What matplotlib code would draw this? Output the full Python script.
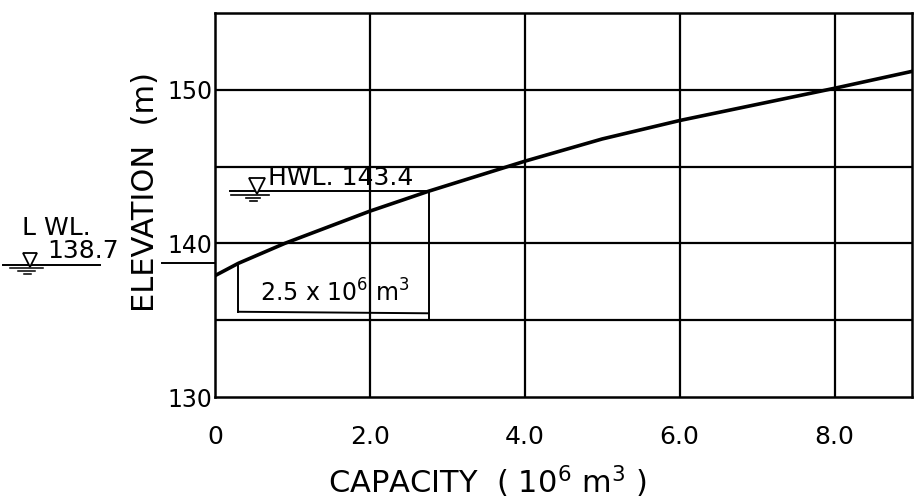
import matplotlib
matplotlib.use("Agg")
import matplotlib.pyplot as plt

# ---- data ----
capacity = [0.0, 0.30, 0.90, 2.0, 2.76, 4.0, 5.0, 6.0, 7.0, 8.0, 9.0]
elevation = [137.9, 138.7, 140.0, 142.1, 143.4, 145.35, 146.8, 148.0, 149.05, 150.1, 151.2]

x_ticks = [0, 2, 4, 6, 8]
x_tick_labels = ["0", "2.0", "4.0", "6.0", "8.0"]
y_ticks = [130, 140, 150]
y_tick_labels = ["130", "140", "150"]
y_grid = [135, 140, 145, 150]

lwl_level = 138.7
hwl_level = 143.4
lwl_capacity = 0.30
hwl_capacity = 2.76
bracket_level = 135.55

plt.rcParams["font.family"] = ["DejaVu Sans"]
plt.rcParams["mathtext.fontset"] = "dejavusans"

fig = plt.figure(figsize=(9.2, 5.04), dpi=100)
ax = fig.add_axes([215/920, 1-397/504, (912-215)/920, (397-13)/504])

ax.set_xlim(0, 9)
ax.set_ylim(130, 155)

# grid
for gx in x_ticks[1:]:
    ax.axvline(gx, color="black", lw=1.6, zorder=1)
for gy in y_grid:
    ax.axhline(gy, color="black", lw=1.6, zorder=1)

for s in ax.spines.values():
    s.set_linewidth(1.8)
    s.set_color("black")

# curve
ax.plot(capacity, elevation, color="black", lw=2.6, zorder=3)

ax.set_xticks(x_ticks)
ax.set_xticklabels(x_tick_labels, fontsize=18)
ax.set_yticks(y_ticks)
ax.set_yticklabels(y_tick_labels, fontsize=17)
ax.tick_params(axis="x", length=0, pad=20)
ax.tick_params(axis="y", length=0, pad=2)

# HWL annotation
ax.plot([0.19, hwl_capacity], [hwl_level, hwl_level], color="black", lw=1.4, zorder=2)
ax.plot([0.54], [hwl_level + 0.33], marker="v", ms=11, mfc="white", mec="black", mew=1.3, zorder=4)
ax.plot([0.21, 0.70], [hwl_level - 0.26, hwl_level - 0.26], color="black", lw=1.2)
ax.plot([0.40, 0.58], [hwl_level - 0.45, hwl_level - 0.45], color="black", lw=1.2)
ax.plot([0.45, 0.54], [hwl_level - 0.63, hwl_level - 0.63], color="black", lw=1.2)
ax.text(0.68, hwl_level + 0.05, "HWL. 143.4", fontsize=18,
        ha="left", va="bottom", zorder=5)

# bracket for 2.5 x 10^6 m^3
ax.plot([lwl_capacity, lwl_capacity], [lwl_level, bracket_level], color="black", lw=1.4)
ax.plot([lwl_capacity, hwl_capacity], [bracket_level, bracket_level - 0.1], color="black", lw=1.4)
ax.plot([hwl_capacity, hwl_capacity], [hwl_level, 135.0], color="black", lw=1.4)
ax.text(1.55, 136.8, r"2.5 x 10$^6$ m$^3$", fontsize=17, ha="center", va="center")

# LWL annotation (outside axes, left)
ax.plot([-0.68, 0.0], [lwl_level, lwl_level], color="black", lw=1.4, clip_on=False)
ax.plot([-2.74, -1.48], [lwl_level - 0.1, lwl_level - 0.1], color="black", lw=1.4, clip_on=False)
ax.plot([-2.39], [lwl_level + 0.25], marker="v", ms=10, mfc="white", mec="black", mew=1.3, clip_on=False)
ax.plot([-2.65, -2.22], [lwl_level - 0.33, lwl_level - 0.33], color="black", lw=1.1, clip_on=False)
ax.plot([-2.54, -2.32], [lwl_level - 0.52, lwl_level - 0.52], color="black", lw=1.1, clip_on=False)
ax.plot([-2.47, -2.38], [lwl_level - 0.70, lwl_level - 0.70], color="black", lw=1.1, clip_on=False)
ax.text(-2.05, 141.0, "L WL.", fontsize=18, ha="center", va="center")
ax.text(-1.70, lwl_level + 0.0, "138.7", fontsize=18, ha="center", va="bottom")

# axis labels
fig.text(487/920, 1-482/504, r"CAPACITY  ( 10$^6$ m$^3$ )", fontsize=22, ha="center", va="center")
fig.text(145/920, 1-192/504, "ELEVATION  (m)", fontsize=22, rotation=90, ha="center", va="center")

fig.savefig("out.png", dpi=100, facecolor="white")
